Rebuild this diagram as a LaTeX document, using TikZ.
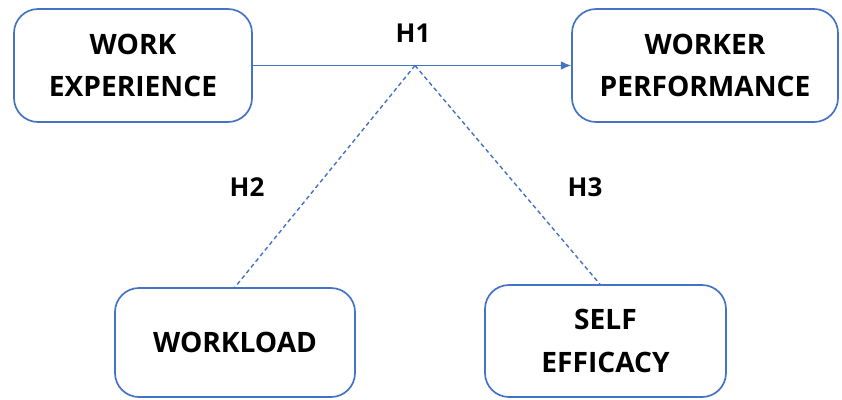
\documentclass[tikz,border=0pt]{standalone}
\usepackage{fontspec}
\setmainfont{Open Sans}
\usetikzlibrary{arrows.meta}
\definecolor{linkblue}{RGB}{68,114,196}
\tikzset{
  varbox/.style={draw=linkblue, line width=1.2pt, rounded corners=0.6cm, fill=white,
    align=center, font=\fontsize{20}{30}\selectfont\bfseries, inner sep=0pt},
  hyp/.style={font=\fontsize{18.5}{20}\selectfont\bfseries},
}
\begin{document}
\begin{tikzpicture}
\useasboundingbox (0,0) rectangle (21.05,9.975);
\node [varbox, minimum width=5.95cm, minimum height=2.825cm] (exp) at (3.325,8.3375) {WORK\\EXPERIENCE};
\node [varbox, minimum width=6.65cm, minimum height=2.825cm] (perf) at (17.625,8.3375) {WORKER\\PERFORMANCE};
\node [varbox, minimum width=6.0cm, minimum height=2.725cm] (load) at (5.875,1.4125) {WORKLOAD};
\node [varbox, minimum width=6.025cm, minimum height=2.8cm] (eff) at (15.1375,1.45) {SELF\\EFFICACY};
%
\coordinate (mid) at (10.375,8.3375);
\draw [linkblue, line width=1pt, -{Latex[length=2.6mm,width=2.2mm]}] (exp) -- (perf);
\draw [linkblue, line width=1pt, dash pattern=on 3pt off 2.2pt] (mid) -- (load.north);
\draw [linkblue, line width=1pt, dash pattern=on 3pt off 2.2pt] (mid) -- ([xshift=-0.14cm]eff.north);
%
\node [hyp] (h1) at (10.325,9.15) {H1};
\node [hyp] (h2) at (6.175,5.3) {H2};
\node [hyp] (h3) at (14.625,5.3) {H3};
\end{tikzpicture}
\end{document}
